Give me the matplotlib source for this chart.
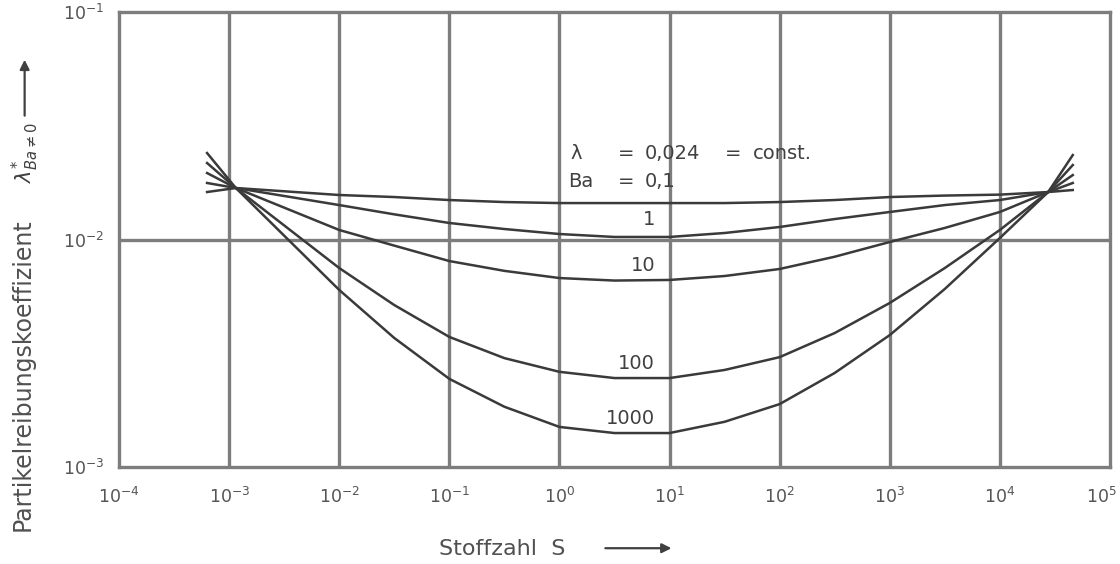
import matplotlib
matplotlib.use("Agg")
import matplotlib.pyplot as plt
import matplotlib.transforms as mtransforms
from matplotlib.patches import FancyArrowPatch

# ---- data ----
S = [6.3e-4, 1.15e-3, 1e-2, 10**-1.5, 1e-1, 10**-0.5, 1e0, 10**0.5, 1e1, 10**1.5,
     1e2, 10**2.5, 1e3, 10**3.5, 1e4, 2.75e4, 4.6e4]

lam_ba01 = [0.01617, 0.01684, 0.01569, 0.01537, 0.01491, 0.01461, 0.01446, 0.01446,
            0.01446, 0.01446, 0.01461, 0.01491, 0.01537, 0.01560, 0.01575, 0.01617, 0.01650]
lam_ba1 = [0.01772, 0.01684, 0.01417, 0.01290, 0.01182, 0.01112, 0.01057, 0.01026,
           0.01026, 0.01068, 0.01135, 0.01230, 0.01321, 0.01417, 0.01491, 0.01617, 0.01772]
lam_ba10 = [0.01960, 0.01684, 0.01101, 0.00940, 0.00804, 0.00728, 0.00677, 0.00660,
            0.00664, 0.00691, 0.00742, 0.00840, 0.00975, 0.01124, 0.01321, 0.01617, 0.01920]
lam_ba100 = [0.02169, 0.01684, 0.00749, 0.00515, 0.00373, 0.00301, 0.00262, 0.00246,
             0.00246, 0.00267, 0.00304, 0.00388, 0.00526, 0.00749, 0.01101, 0.01617, 0.02125]
lam_ba1000 = [0.02400, 0.01684, 0.00600, 0.00369, 0.00244, 0.00184, 0.00150, 0.00141,
              0.00141, 0.00158, 0.00189, 0.00259, 0.00380, 0.00606, 0.01015, 0.01617, 0.02351]

series = [lam_ba01, lam_ba1, lam_ba10, lam_ba100, lam_ba1000]
curve_labels = ["1", "10", "100", "1000"]
label_y = [0.01219, 0.00765, 0.00284, 0.00164]
label_x = 7.4

# header text pieces: (text, x in S units)
header1 = [("λ", 1.248), ("=", 3.40), ("0,024", 5.99), ("=", 31.9), ("const.", 57.3)]
header2 = [("Ba", 1.197), ("=", 3.40), ("0,1", 5.99)]
header_y = [0.02377, 0.0179]

x_ticks = [1e-4, 1e-3, 1e-2, 1e-1, 1e0, 1e1, 1e2, 1e3, 1e4, 1e5]
x_ticklabels = [r"$10^{-4}$", r"$10^{-3}$", r"$10^{-2}$", r"$10^{-1}$", r"$10^{0}$",
                r"$10^{1}$", r"$10^{2}$", r"$10^{3}$", r"$10^{4}$", r"$10^{5}$"]
y_ticks = [1e-3, 1e-2, 1e-1]
y_ticklabels = [r"$10^{-3}$", r"$10^{-2}$", r"$10^{-1}$"]

# ---- figure ----
plt.rcParams['font.family'] = ['DejaVu Sans']
plt.rcParams['mathtext.fontset'] = 'dejavusans'
fig = plt.figure(figsize=(11.2, 5.64), dpi=100)
ax = fig.add_axes([0.1063, 0.172, 0.8847, 0.8067])
ax.set_xscale('log')
ax.set_yscale('log')
ax.set_xlim(1e-4, 1e5)
ax.set_ylim(1e-3, 1e-1)

gridc = '#7d7d7d'
for xv in x_ticks[1:-1]:
    ax.axvline(xv, color=gridc, lw=2.4, zorder=1)
ax.axhline(1e-2, color=gridc, lw=2.4, zorder=1)
for sp in ax.spines.values():
    sp.set_color(gridc)
    sp.set_linewidth(2.4)

for ys in series:
    ax.plot(S, ys, color='#3a3a3a', lw=1.8, zorder=3, solid_joinstyle='round')

ax.set_xticks(x_ticks)
ax.set_xticklabels(x_ticklabels)
ax.set_yticks(y_ticks)
ax.set_yticklabels(y_ticklabels)
ax.minorticks_off()
ax.tick_params(length=0, labelsize=12.5, labelcolor='#555555')
ax.tick_params(axis='x', pad=14)
ax.tick_params(axis='y', pad=11)
last = ax.get_xticklabels()[-1]
last.set_transform(last.get_transform() +
                   mtransforms.ScaledTranslation(-0.09, 0, fig.dpi_scale_trans))

tc = '#404040'
for (t, xx) in header1:
    ax.text(xx, header_y[0], t, fontsize=14, color=tc, ha='left', va='center')
for (t, xx) in header2:
    ax.text(xx, header_y[1], t, fontsize=14, color=tc, ha='left', va='center')
for lab, yy in zip(curve_labels, label_y):
    ax.text(label_x, yy, lab, fontsize=14, color=tc, ha='right', va='center')

# axis labels with arrows
fig.text(0.448, 0.027, "Stoffzahl  S", fontsize=16, color='#505050', ha='center', va='center')
fig.add_artist(FancyArrowPatch((0.538, 0.028), (0.602, 0.028),
               transform=fig.transFigure, arrowstyle='-|>', mutation_scale=14,
               color='#404040', lw=1.6))
fig.text(0.020, 0.335, "Partikelreibungskoeffizient", fontsize=17, color='#505050',
         rotation=90, ha='center', va='center')
fig.text(0.022, 0.73, r"$\lambda^{*}_{Ba\neq0}$", fontsize=15, color='#404040',
         rotation=90, ha='center', va='center')
fig.add_artist(FancyArrowPatch((0.022, 0.79), (0.022, 0.899),
               transform=fig.transFigure, arrowstyle='-|>', mutation_scale=14,
               color='#404040', lw=1.6))

fig.savefig("out.png", dpi=100)
